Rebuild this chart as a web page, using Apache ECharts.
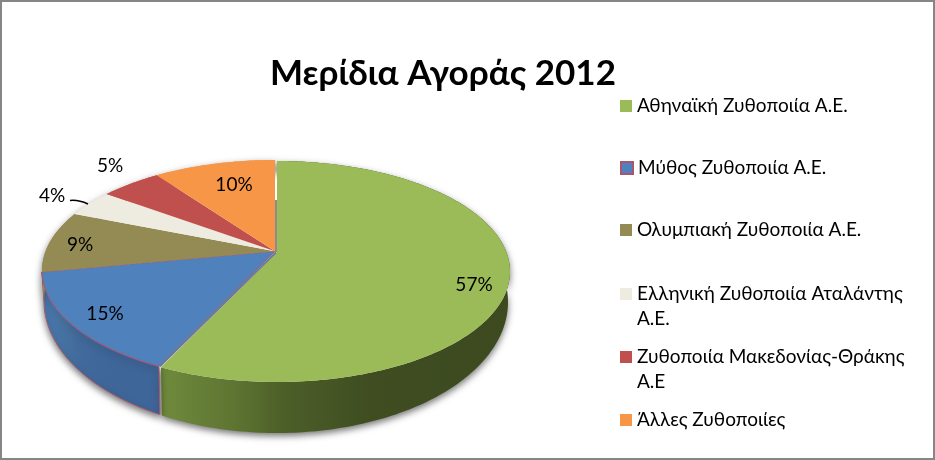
<!DOCTYPE html>
<html><head><meta charset="utf-8">
<style>html,body{margin:0;padding:0;background:#fff}#c{width:935px;height:460px}</style>
<script src="https://cdn.jsdelivr.net/npm/echarts@6/dist/echarts.min.js"></script>
</head><body><div id="c"></div>
<script>
const chartTitle = 'Μερίδια Αγοράς 2012';
const categories = ['Αθηναϊκή Ζυθοποιία Α.Ε.','Μύθος Ζυθοποιία Α.Ε.','Ολυμπιακή Ζυθοποιία Α.Ε.','Ελληνική Ζυθοποιία Αταλάντης Α.Ε.','Ζυθοποιία Μακεδονίας-Θράκης Α.Ε','Άλλες Ζυθοποιίες'];
const legendFirstLines = ['Αθηναϊκή Ζυθοποιία Α.Ε.','Μύθος Ζυθοποιία Α.Ε.','Ολυμπιακή Ζυθοποιία Α.Ε.','Ελληνική Ζυθοποιία Αταλάντης','Ζυθοποιία Μακεδονίας-Θράκης','Άλλες Ζυθοποιίες'];
const legendSecondLines = ['','','','Α.Ε.','Α.Ε',''];
const shares = [57,15,9,4,5,10];
const colors = ['#9BBB59','#4F81BD','#948A54','#EEECE1','#C0504D','#F79646'];

const FONT = 'Lato, "Noto Sans", sans-serif';
const legendTops = [106,168,230,294,357,420];
const labelAnchors = [[474,285],[105,314],[80,245],[52,196],[110,166],[234,185]];
const sideFills = [
  ['#6F8A3C','#5F7633','#4C5F28','#3F4D21','#3D4A20'],
  ['#4A7AB3','#46719F','#41699B','#3F6699','#3F6699']
];
const top_ = {cx:275, cy:270.5, rx:233, ry:110.5};
const low_ = {cx:275, cy:301, rx:231, ry:131};
const skew = -0.175;
const explode = [[2,1],[0,0],[0,0],[0,0],[0,0],[0,0]];

function project(e, pct, r, off){
  const th = pct/100*Math.PI*2;
  const x = r*Math.sin(th), y = -r*Math.cos(th);
  const d = 1 + skew*y;
  const px = x*Math.sqrt(1-skew*skew)/d, py = (y+skew)/d;
  return [e.cx + e.rx*px + off[0], e.cy + e.ry*py + off[1]];
}
function arc(e, a, b, off){
  const pts = [];
  const n = Math.max(2, Math.ceil((b-a)*4));
  for(let i=0;i<=n;i++) pts.push(project(e, a+(b-a)*i/n, 1, off));
  return pts;
}
function grad(stops){
  return {type:'linear',x:0,y:0,x2:1,y2:0,global:false,
    colorStops:stops.map((c,i)=>({offset:[0,0.2,0.35,0.6,1][i],color:c}))};
}
function render(idx){
  return function(params, api){
    const start = api.value(0), share = api.value(1), end = start+share;
    const off = explode[idx], children = [];
    const upper = arc(top_, start, end, off);
    const lower = arc(low_, start, end, off).reverse();
    const apex = project(top_, 0, 0, off);
    const blue = idx===1;
    children.push({type:'polygon', z2:idx===0?1:2, shape:{points:upper.concat(lower)},
      style:{fill: sideFills[idx] ? grad(sideFills[idx]) : colors[idx],
        stroke: blue ? '#A8566F' : null, lineWidth:1,
        shadowBlur:7, shadowColor:'rgba(0,0,0,0.55)', shadowOffsetY:3}});
    children.push({type:'polygon', z2:5, shape:{points:[apex].concat(upper)},
      style:{fill:colors[idx], stroke: blue ? '#A8566F' : null, lineWidth:1}});
    if(idx===0){
      const p = project(top_, 0, 0.52, [0,0]);
      children.push({type:'line', z2:6, shape:{x1:apex[0]-1,y1:apex[1],x2:p[0]+1,y2:p[1]},
        style:{stroke:'#8C8C8C',lineWidth:2}});
    }
    if(blue){
      children.push({type:'line', z2:6, shape:{x1:apex[0]+1,y1:apex[1]+1,x2:upper[0][0]+1,y2:upper[0][1]},
        style:{stroke:'#66799A',lineWidth:2}});
    }
    const a = labelAnchors[idx];
    children.push({type:'text', z2:8, x:a[0], y:a[1],
      style:{text:share+'%', fill:'#000', font:'19px '+FONT, align:'center', verticalAlign:'middle'}});
    if(idx===3){
      children.push({type:'bezierCurve', z2:8, shape:{x1:a[0]+18,y1:a[1]+4.5,cpx1:a[0]+26,cpy1:a[1]+3.5,x2:a[0]+36,y2:a[1]+8},
        style:{stroke:'#000',lineWidth:1.6,fill:null}});
    }
    return {type:'group', children};
  };
}
let cum = 0;
const series = categories.map((name,i)=>{
  const s = {type:'custom', name, coordinateSystem:'none', silent:true, animation:false,
    itemStyle:{color:colors[i], borderColor: i===1?'#A8566F':colors[i], borderWidth: i===1?1:0},
    renderItem:render(i), data:[{value:[cum,shares[i]]}]};
  cum += shares[i];
  return s;
});
const legends = categories.map((name,i)=>({
  data:[name], left:620, top:legendTops[i]-12, itemWidth:12, itemHeight:12, itemGap:0, padding:0,
  icon:'rect', selectedMode:false, formatter:()=>legendFirstLines[i],
  textStyle:{fontFamily:FONT,fontSize:19,color:'#000',height:24,lineHeight:24}
}));
const graphics = [{type:'rect',silent:true,shape:{x:1,y:1,width:933,height:458},
  style:{fill:null,stroke:'#868686',lineWidth:2},z:100}];
legendSecondLines.forEach((t,i)=>{ if(t) graphics.push({type:'text',silent:true,x:637,y:legendTops[i]+25,
  style:{text:t,fill:'#000',font:'19px '+FONT,verticalAlign:'middle'}}); });
const chart = echarts.init(document.getElementById('c'),null,{renderer:'canvas'});
chart.setOption({
  animation:false, backgroundColor:'#fff',
  title:{text:chartTitle,left:270,top:56,padding:0,textStyle:{fontFamily:FONT,fontSize:35,fontWeight:'bold',color:'#000'}},
  legend:legends, series, graphic:graphics
});
</script></body></html>
